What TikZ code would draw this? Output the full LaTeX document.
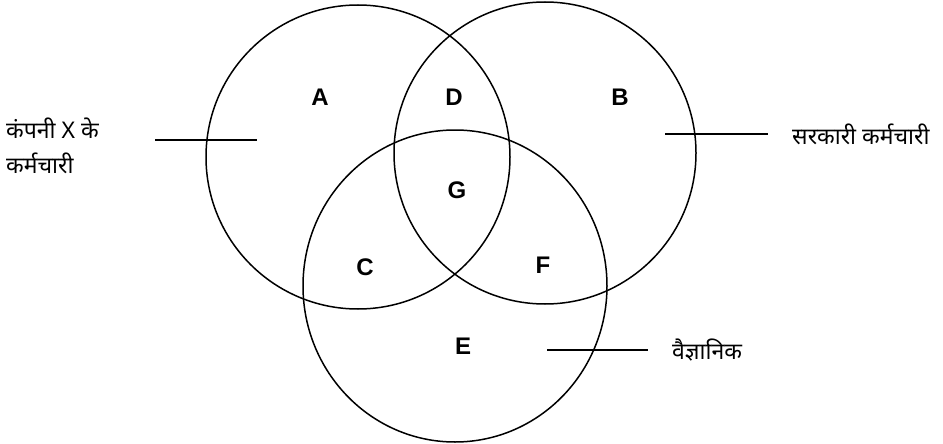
\documentclass[tikz,border=0pt]{standalone}
\usepackage{fontspec}
\setmainfont{Liberation Sans}
\newfontfamily\devfont[Script=Devanagari]{Noto Sans}
\begin{document}
\begin{tikzpicture}[x=1pt,y=-1pt,
  ring/.style={draw=black,line width=1.5pt},
  lead/.style={draw=black,line width=1.5pt},
  region/.style={font=\fontsize{24}{24}\selectfont\bfseries,inner sep=0pt},
  hindi/.style={font=\devfont\fontsize{23}{35}\selectfont,inner sep=0pt,anchor=west,align=left}]
\useasboundingbox (0,0) rectangle (943,444);
% circles
\draw[ring] (358,157) circle[radius=152];
\draw[ring] (545,153) circle[radius=151];
\draw[ring] (455,286) ellipse[x radius=152,y radius=156];
% region letters
\node[region] (A) at (320,97) {A};
\node[region] (D) at (454,97) {D};
\node[region] (B) at (620,97) {B};
\node[region] (G) at (457,190) {G};
\node[region] (C) at (365,267) {C};
\node[region] (F) at (543,265) {F};
\node[region] (E) at (463,346) {E};
% labels
\node[hindi] (empX) at (6,146) {कंपनी X के\\कर्मचारी};
\node[hindi] (govt) at (792,134) {सरकारी कर्मचारी};
\node[hindi] (sci) at (672,350) {वैज्ञानिक};
% leader lines
\coordinate (l1) at (155,140); \coordinate (l2) at (257,140);
\coordinate (r1) at (665,134); \coordinate (r2) at (768,134);
\coordinate (s1) at (547,350); \coordinate (s2) at (648,350);
\draw[lead] (l1) -- (l2);
\draw[lead] (r1) -- (r2);
\draw[lead] (s1) -- (s2);
\end{tikzpicture}
\end{document}
